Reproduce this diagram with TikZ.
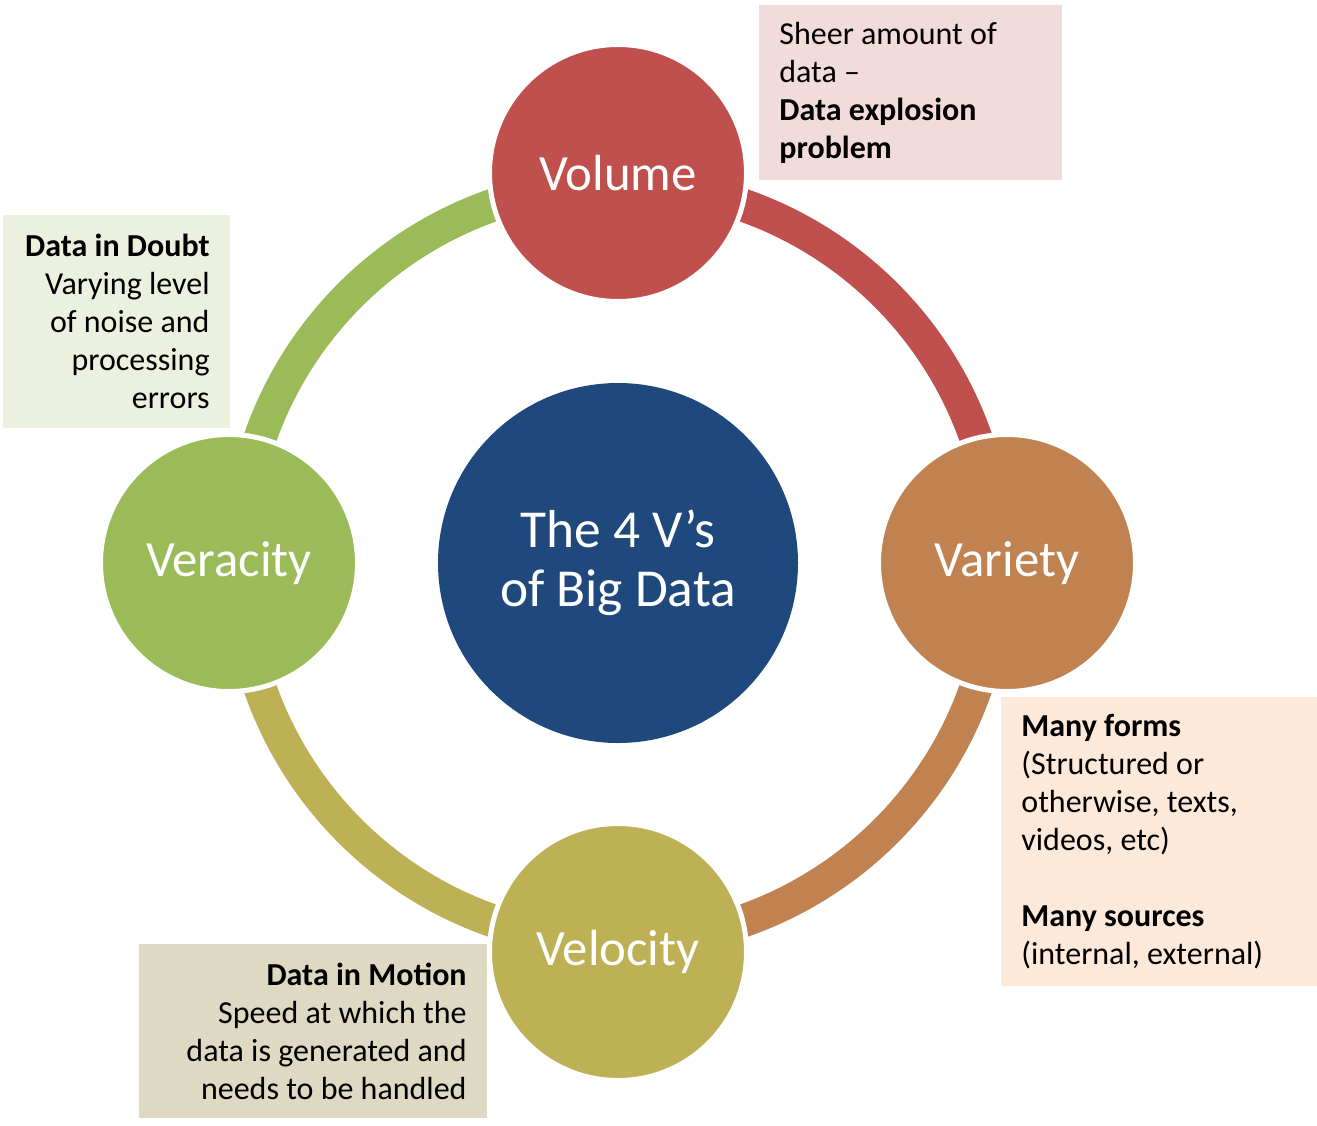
\documentclass[tikz,border=0pt]{standalone}
\usepackage{fontspec}
\setmainfont{Carlito}
\definecolor{volred}{HTML}{C0504D}
\definecolor{varorange}{HTML}{C08250}
\definecolor{velolive}{HTML}{BEB054}
\definecolor{vergreen}{HTML}{9BBB59}
\definecolor{centerblue}{HTML}{1F497D}
\definecolor{volbox}{HTML}{F2DCDB}
\definecolor{verbox}{HTML}{EBF1DE}
\definecolor{varbox}{HTML}{FDE9D9}
\definecolor{velbox}{HTML}{DDD9C3}
\begin{document}
\begin{tikzpicture}[x=0.5pt,y=0.5pt,
  ring/.style={line width=16.5pt},
  vcircle/.style={circle, minimum size=128.5pt, inner sep=0pt, draw=white, line width=2.5pt, text=white, font=\fontsize{25.4}{29}\selectfont},
  boxbg/.style={inner sep=0pt, outer sep=0pt},
  infotext/.style={inner sep=0pt, font=\fontsize{16}{19}\selectfont}]
\useasboundingbox (0,0) rectangle (1317,-1125);
% ring segments
\coordinate (c) at (618,-563);
\draw[ring, volred] (c) ++(90:379) arc[start angle=90, end angle=0, radius=379];
\draw[ring, varorange] (c) ++(0:379) arc[start angle=0, end angle=-90, radius=379];
\draw[ring, velolive] (c) ++(-90:379) arc[start angle=-90, end angle=-180, radius=379];
\draw[ring, vergreen] (c) ++(180:379) arc[start angle=180, end angle=90, radius=379];
% center
\node[circle, minimum size=180pt, inner sep=0pt, fill=centerblue, text=white, align=center, font=\fontsize{26.7}{29.5}\selectfont] (center) at (618,-563) {The 4 V’s\\of Big Data};
% circles
\node[vcircle, fill=volred] (volume) at (618,-173) {Volume};
\node[vcircle, fill=varorange] (variety) at (1007,-563) {Variety};
\node[vcircle, fill=velolive] (velocity) at (618,-952) {Velocity};
\node[vcircle, fill=vergreen] (veracity) at (229,-563) {Veracity};
% info boxes
\node[boxbg, fill=volbox, minimum width=151.5pt, minimum height=87.5pt] (volb) at (910.5,-92.5) {};
\node[infotext, anchor=west, align=left] (volt) at ([xshift=10pt]volb.west)
  {Sheer amount of\\data –\\\textbf{Data explosion}\\\textbf{problem}};
\node[boxbg, fill=verbox, minimum width=113.5pt, minimum height=106.5pt] (verb) at (116.5,-321.5) {};
\node[infotext, anchor=east, align=right] (vert) at ([xshift=-10pt]verb.east)
  {\textbf{Data in Doubt}\\Varying level\\of noise and\\processing\\errors};
\node[boxbg, fill=varbox, minimum width=158pt, minimum height=144.5pt] (varb) at (1159,-841.5) {};
\node[infotext, anchor=west, align=left] (vart) at ([xshift=10pt]varb.west)
  {\textbf{Many forms}\\(Structured or\\otherwise, texts,\\videos, etc)\\[19pt]\textbf{Many sources}\\(internal, external)};
\node[boxbg, fill=velbox, minimum width=174pt, minimum height=87pt] (velb) at (313,-1031) {};
\node[infotext, anchor=east, align=right] (velt) at ([xshift=-10pt]velb.east)
  {\textbf{Data in Motion}\\Speed at which the\\data is generated and\\needs to be handled};
\end{tikzpicture}
\end{document}
